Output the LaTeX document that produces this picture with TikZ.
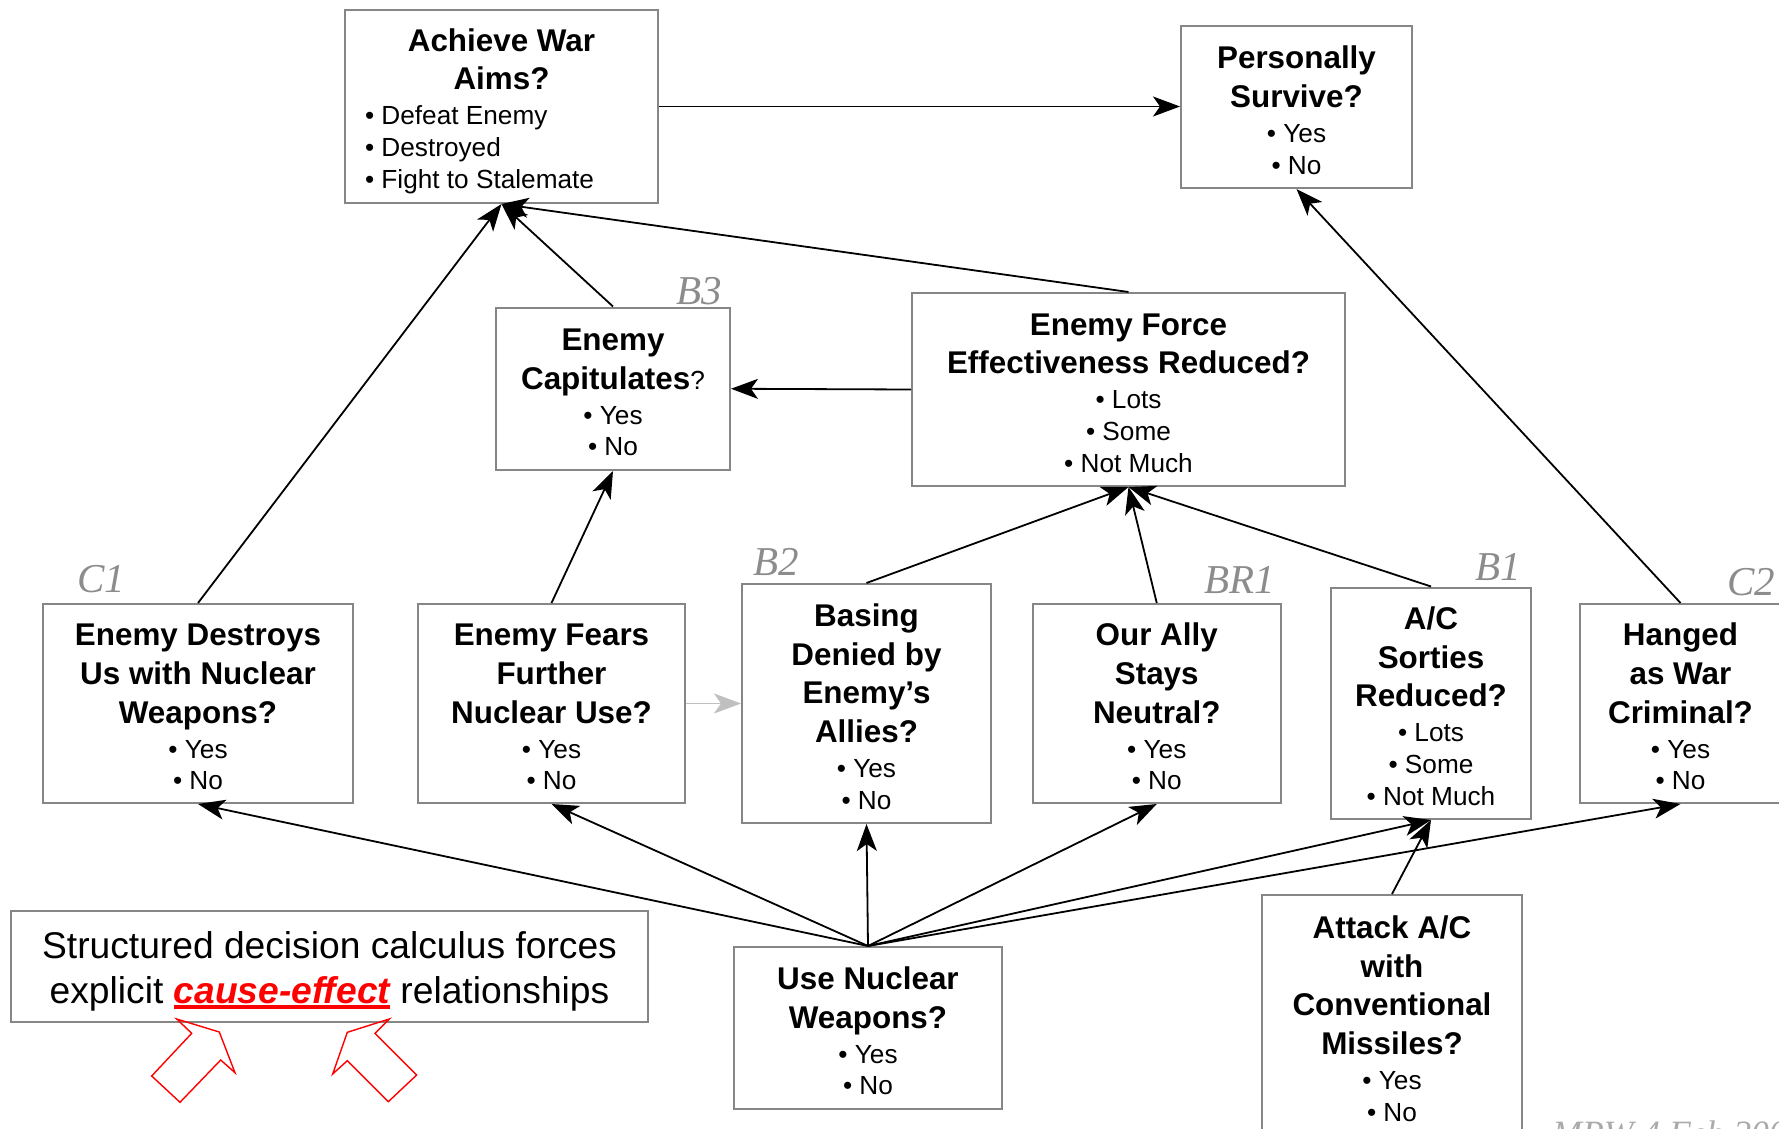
\documentclass[tikz,border=0pt]{standalone}
\usepackage{fontspec}
\setmainfont{Liberation Sans}
\newfontfamily\tagserif{Liberation Serif}
\usetikzlibrary{arrows.meta}

\definecolor{boxgray}{RGB}{134,134,134}
\definecolor{taggray}{RGB}{140,140,140}
\definecolor{creditgray}{RGB}{170,170,170}
\definecolor{linkgray}{RGB}{192,192,192}

% text helpers for the decision boxes
\newcommand\itemfont{\fontsize{13.1}{15.9}\selectfont}
\newcommand\boxtitle[1]{{\fontsize{15.7}{19.3}\selectfont\bfseries #1}}
\newcommand\firsttitle[1]{\rule{0pt}{14.5pt}\boxtitle{#1}}
\newcommand\leftitem[1]{\makebox[136.5pt][l]{#1}}
\newcommand\redul[1]{\setbox0\hbox{#1}\rlap{\color{red}\rule[-2.8pt]{\wd0}{1.6pt}}\box0\relax}

\tikzset{
  box/.style={draw=boxgray, line width=1pt, fill=white, inner sep=0pt,
              align=center, font=\itemfont},
  arr/.style={-{Stealth[length=13.5pt,width=10pt,inset=3.5pt]}, line width=0.9pt},
  greyarr/.style={-{Stealth[length=13.5pt,width=10pt,inset=3.5pt]}, line width=0.9pt, draw=linkgray, fill=linkgray},
  tag/.style={anchor=base west, inner sep=0pt, text=taggray,
              font=\tagserif\itshape\fontsize{20.5}{24}\selectfont},
  callout/.style={draw=red, line width=0.7pt, line join=miter},
}

\begin{document}
\begin{tikzpicture}[x=0.5pt,y=-0.5pt]
\useasboundingbox (0,0) rectangle (1779,1129);
\clip (0,0) rectangle (1779,1129);
\fill[white] (0,0) rectangle (1779,1129);

% top row
\node[box, minimum width=156.5pt, minimum height=96.5pt] (ach) at (501.5,106.5)
  {\rule{0pt}{16pt}\boxtitle{Achieve War}\\[3.4pt]\boxtitle{Aims?}\\[1.6pt]
   \leftitem{• Defeat Enemy}\\\leftitem{• Destroyed}\\\leftitem{• Fight to Stalemate}};
\node[box, minimum width=115.5pt, minimum height=81pt] (per) at (1296.5,107)
  {\firsttitle{Personally}\\[3.4pt]\boxtitle{Survive?}\\[1.6pt]• Yes\\• No};

% middle row
\node[box, minimum width=117pt, minimum height=81.25pt] (cap) at (613,388.75)
  {\firsttitle{Enemy}\\[3.4pt]\boxtitle{Capitulates}?\\[1.6pt]• Yes\\• No};
\node[box, minimum width=216.5pt, minimum height=96.5pt] (feff) at (1128.5,389.5)
  {\firsttitle{Enemy Force}\\[3.4pt]\boxtitle{Effectiveness Reduced?}\\[1.6pt]• Lots\\• Some\\• Not Much};

% lower row
\node[box, minimum width=155pt, minimum height=99.5pt] (destroy) at (198,703.5)
  {\firsttitle{Enemy Destroys}\\[3.4pt]\boxtitle{Us with Nuclear}\\[3.4pt]\boxtitle{Weapons?}\\[1.6pt]• Yes\\• No};
\node[box, minimum width=133.5pt, minimum height=99.5pt] (fears) at (551.5,703.5)
  {\firsttitle{Enemy Fears}\\[3.4pt]\boxtitle{Further}\\[3.4pt]\boxtitle{Nuclear Use?}\\[1.6pt]• Yes\\• No};
\node[box, minimum width=124.5pt, minimum height=119.5pt] (basing) at (866.5,703.5)
  {\firsttitle{Basing}\\[3.4pt]\boxtitle{Denied by}\\[3.4pt]\boxtitle{Enemy’s}\\[3.4pt]\boxtitle{Allies?}\\[1.6pt]• Yes\\• No};
\node[box, minimum width=124.25pt, minimum height=99.5pt] (ally) at (1156.75,703.5)
  {\firsttitle{Our Ally}\\[3.4pt]\boxtitle{Stays}\\[3.4pt]\boxtitle{Neutral?}\\[1.6pt]• Yes\\• No};
\node[box, minimum width=100pt, minimum height=115.75pt] (acs) at (1431,703.25)
  {\firsttitle{A/C}\\[3.4pt]\boxtitle{Sorties}\\[3.4pt]\boxtitle{Reduced?}\\[1.6pt]• Lots\\• Some\\• Not Much};
\node[box, minimum width=100.5pt, minimum height=99.5pt] (hang) at (1680.5,703.5)
  {\firsttitle{Hanged}\\[3.4pt]\boxtitle{as War}\\[3.4pt]\boxtitle{Criminal?}\\[1.6pt]• Yes\\• No};

% bottom row
\node[box, minimum width=134pt, minimum height=80.75pt] (use) at (868,1027.75)
  {\firsttitle{Use Nuclear}\\[3.4pt]\boxtitle{Weapons?}\\[1.6pt]• Yes\\• No};
\node[box, minimum width=130pt, minimum height=120.5pt] (att) at (1392,1015.5)
  {\firsttitle{Attack A/C}\\[3.4pt]\boxtitle{with}\\[3.4pt]\boxtitle{Conventional}\\[3.4pt]\boxtitle{Missiles?}\\[1.6pt]• Yes\\• No};

\node[box, font=\fontsize{18.6}{22.1}\selectfont, minimum width=318.5pt, minimum height=55.25pt] (note) at (329.5,966.25)
  {\rule{0pt}{18.6pt}Structured decision calculus forces\\explicit \redul{\textcolor{red}{\bfseries\itshape cause-effect}} relationships};

% box tags
\node[tag] (tc1) at (77,592) {C1};
\node[tag] (tb3) at (676,304) {B3};
\node[tag] (tb2) at (753,575) {B2};
\node[tag] (tbr1) at (1204,593) {BR1};
\node[tag] (tb1) at (1475,580) {B1};
\node[tag] (tc2) at (1727,595) {C2};

\node[anchor=base west, inner sep=0pt, text=creditgray,
      font=\tagserif\itshape\fontsize{17.8}{20}\selectfont] (credit) at (1552,1145) {MPW 4 Feb 2008};

% influences
\draw[arr] (ach.east) -- (ach.east -| per.west);
\draw[arr] (destroy.north) -- (ach.south);
\draw[arr] (cap.north) -- (ach.south);
\draw[arr] (feff.north) -- (ach.south);
\draw[arr] (feff.west) -- (cap.east);
\draw[arr] (fears.north) -- (cap.south);
\draw[arr] (basing.north) -- (feff.south);
\draw[arr] (ally.north) -- (feff.south);
\draw[arr] (acs.north) -- (feff.south);
\draw[arr] (hang.north) -- (per.south);
\draw[arr] (use.north) -- (destroy.south);
\draw[arr] (use.north) -- (fears.south);
\draw[arr] (use.north) -- (basing.south);
\draw[arr] (use.north) -- (ally.south);
\draw[arr] (use.north) -- (acs.south);
\draw[arr] (use.north) -- (hang.south);
\draw[arr] (att.north) -- (acs.south);
\draw[greyarr] (fears.east) -- (basing.west);

% red outline arrows under the note
\draw[callout] (176.7,1019) -- (191.7,1033.3) -- (151.7,1076) -- (180,1102.3)
  -- (220.7,1060) -- (235,1072.7) -- (219.3,1032) -- cycle;
\draw[callout] (389.3,1019) -- (375,1033.3) -- (416.7,1075) -- (388.3,1101.7)
  -- (347.3,1060.7) -- (332.7,1074) -- (347.3,1032.3) -- cycle;
\end{tikzpicture}
\end{document}
